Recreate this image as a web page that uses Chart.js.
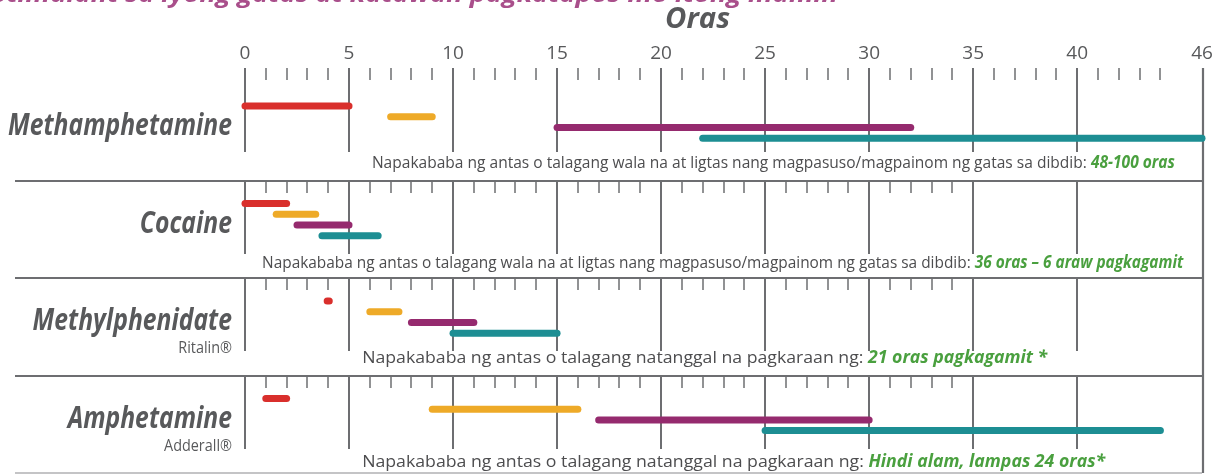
<!DOCTYPE html>
<html>
<head>
<meta charset="utf-8">
<script src="https://cdn.jsdelivr.net/npm/chart.js@4.4.1/dist/chart.umd.min.js"></script>
<style>
  html, body { margin: 0; padding: 0; background: #fff; }
  #wrap { width: 1220px; height: 474px; position: relative; }
</style>
</head>
<body>
<div id="wrap"><canvas id="chart"></canvas></div>
<script>
// rows, top to bottom
const drugs = ['Methamphetamine', 'Cocaine', 'Methylphenidate', 'Amphetamine'];
const brands = ['', '', 'Ritalin®', 'Adderall®'];
const tickValues = [0, 5, 10, 15, 20, 25, 30, 35, 40, 46];

// [start, end] in hours, one pair per drug
const redBars = [[0, 5], [0, 2], [3.95, 4.05], [1, 2]];
const orangeBars = [[7, 9], [1.5, 3.4], [6, 7.4], [9, 16]];
const purpleBars = [[15, 32], [2.5, 5], [8, 11], [17, 30]];
const tealBars = [[22, 46], [3.7, 6.4], [10, 15], [25, 44]];

const noteText = [
    'Napakababa ng antas o talagang wala na at ligtas nang magpasuso/magpainom ng gatas sa dibdib: ',
    'Napakababa ng antas o talagang wala na at ligtas nang magpasuso/magpainom ng gatas sa dibdib: ',
    'Napakababa ng antas o talagang natanggal na pagkaraan ng: ',
    'Napakababa ng antas o talagang natanggal na pagkaraan ng: '
];
const noteHighlight = ['48-100 oras', '36 oras – 6 araw pagkagamit', '21 oras pagkagamit *', 'Hindi alam, lampas 24 oras*'];

const titleText = 'Stimulant sa iyong gatas at katawan pagkatapos mo itong inumin';
const axisTitle = 'Oras';

// styling / layout
const seriesBars = [redBars, orangeBars, purpleBars, tealBars];
const seriesColors = ['#d92f2c', '#eeaa28', '#952a6e', '#1d8e93'];
const laneOffset = [0.235, 0.345, 0.455, 0.565];
const noteSpan = [[6.1, 44.7], [0.82, 45.1], [5.63, 38.56], [5.63, 41.35]];
const noteOffset = [0.87, 0.9, 0.87, 0.94];
const lineGray = '#6d6e71';
const textGray = '#58595b';
const green = '#4aa03f';
const FONT = '"Open Sans", sans-serif';

const datasets = [];
seriesBars.forEach((bars, s) => {
    bars.forEach((b, d) => {
        datasets.push({
            label: drugs[d] + ' ' + (s + 1),
            data: [{ x: b[0], y: d + laneOffset[s] }, { x: b[1], y: d + laneOffset[s] }],
            borderColor: seriesColors[s],
            borderWidth: 7,
            borderCapStyle: 'round',
            pointRadius: 0,
            clip: false
        });
    });
});

function vline(ctx, x, y0, y1) {
    ctx.beginPath();
    ctx.moveTo(x, y0);
    ctx.lineTo(x, y1);
    ctx.stroke();
}

// draws text squeezed/stretched to a target width
function fitText(ctx, parts, x0, width, yb) {
    let total = 0;
    parts.forEach(p => {
        ctx.font = p.font;
        p.w = ctx.measureText(p.text).width;
        total += p.w;
    });
    const sx = width / total;
    ctx.save();
    ctx.translate(x0, yb);
    ctx.scale(sx, 1);
    ctx.textAlign = 'left';
    ctx.textBaseline = 'alphabetic';
    let cx = 0;
    parts.forEach(p => {
        ctx.font = p.font;
        ctx.fillStyle = p.color;
        ctx.fillText(p.text, cx, 0);
        cx += p.w;
    });
    ctx.restore();
}

const gridPlugin = {
    id: 'timeGrid',
    beforeDatasetsDraw(chart) {
        const { ctx, scales: { x, y } } = chart;
        const top = chart.chartArea.top;
        const left = 15;
        const right = x.getPixelForValue(46);
        ctx.save();
        ctx.strokeStyle = lineGray;

        // header minor ticks
        ctx.lineWidth = 1.5;
        for (let h = 1; h < 46; h++) {
            if (h % 5 !== 0) vline(ctx, Math.round(x.getPixelForValue(h)), top, top + 12);
        }
        // header + first row major lines
        ctx.lineWidth = 2;
        const row0 = y.getPixelForValue(0);
        for (let h = 0; h <= 40; h += 5) {
            vline(ctx, Math.round(x.getPixelForValue(h)), top, row0 + 69);
        }

        for (let r = 1; r < drugs.length; r++) {
            const ry = Math.round(y.getPixelForValue(r));
            ctx.lineWidth = 2.2;
            ctx.beginPath();
            ctx.moveTo(left, ry);
            ctx.lineTo(right, ry);
            ctx.stroke();
            ctx.lineWidth = 1.5;
            for (let h = 1; h < 35; h++) {
                if (h % 5 !== 0) vline(ctx, Math.round(x.getPixelForValue(h)), ry, ry + 12);
            }
            ctx.lineWidth = 2;
            for (let h = 0; h <= 40; h += 5) {
                vline(ctx, Math.round(x.getPixelForValue(h)), ry, ry + 73);
            }
        }

        // bottom rule and right border
        const bottom = y.getPixelForValue(drugs.length);
        ctx.strokeStyle = '#c4c4c6';
        ctx.lineWidth = 2;
        ctx.beginPath();
        ctx.moveTo(left, bottom);
        ctx.lineTo(right, bottom);
        ctx.stroke();
        ctx.strokeStyle = lineGray;
        ctx.lineWidth = 2.2;
        vline(ctx, Math.round(right) + 1, top, bottom);
        ctx.restore();
    },
    afterDraw(chart) {
        const { ctx, scales: { x, y } } = chart;
        ctx.save();

        // cut-off title at the very top
        fitText(ctx, [{ text: titleText, font: 'italic bold 24px ' + FONT, color: '#a94f8b' }], -8, 846, 2);

        // axis title
        fitText(ctx, [{ text: axisTitle, font: 'italic bold 28px ' + FONT, color: textGray }], 665, 65, 28);

        // drug names: one common squeeze factor
        const nameFont = 'italic bold 30px ' + FONT;
        ctx.font = nameFont;
        const nameScale = 224 / ctx.measureText(drugs[0]).width;
        drugs.forEach((name, r) => {
            const w = ctx.measureText(name).width * nameScale;
            const ry = y.getPixelForValue(r);
            fitText(ctx, [{ text: name, font: nameFont, color: textGray }], 232 - w, w, ry + 52);
            ctx.font = nameFont;
            if (brands[r]) {
                ctx.save();
                ctx.font = '16px ' + FONT;
                ctx.fillStyle = textGray;
                ctx.textAlign = 'right';
                ctx.textBaseline = 'alphabetic';
                ctx.translate(232, ry + 75);
                ctx.scale(0.9, 1);
                ctx.fillText(brands[r], 0, 0);
                ctx.restore();
                ctx.font = nameFont;
            }
        });

        // notes under each row
        drugs.forEach((name, r) => {
            const x0 = x.getPixelForValue(noteSpan[r][0]);
            const x1 = x.getPixelForValue(noteSpan[r][1]);
            const yb = y.getPixelForValue(r + noteOffset[r]);
            fitText(ctx, [
                { text: noteText[r], font: '17px ' + FONT, color: '#4d4d4f' },
                { text: noteHighlight[r], font: 'italic bold 17px ' + FONT, color: green }
            ], x0, x1 - x0, yb);
        });
        ctx.restore();
    }
};

new Chart(document.getElementById('chart'), {
    type: 'line',
    data: { datasets: datasets },
    options: {
        responsive: true,
        maintainAspectRatio: false,
        animation: false,
        layout: { padding: { left: 245, right: 18, top: 0, bottom: 1 } },
        plugins: {
            legend: { display: false },
            tooltip: { enabled: false }
        },
        scales: {
            x: {
                type: 'linear',
                position: 'top',
                min: 0,
                max: 46,
                grid: { display: false, drawTicks: false },
                border: { display: false },
                afterBuildTicks: scale => {
                    scale.ticks = tickValues.map(v => ({ value: v }));
                },
                afterFit: scale => {
                    scale.height = 68;
                },
                ticks: {
                    padding: 3,
                    maxRotation: 0,
                    autoSkip: false,
                    color: textGray,
                    font: { family: '"Open Sans", sans-serif', size: 19 }
                }
            },
            y: {
                type: 'linear',
                display: false,
                reverse: true,
                min: -0.155,
                max: 4
            }
        }
    },
    plugins: [gridPlugin]
});
</script>
</body>
</html>
